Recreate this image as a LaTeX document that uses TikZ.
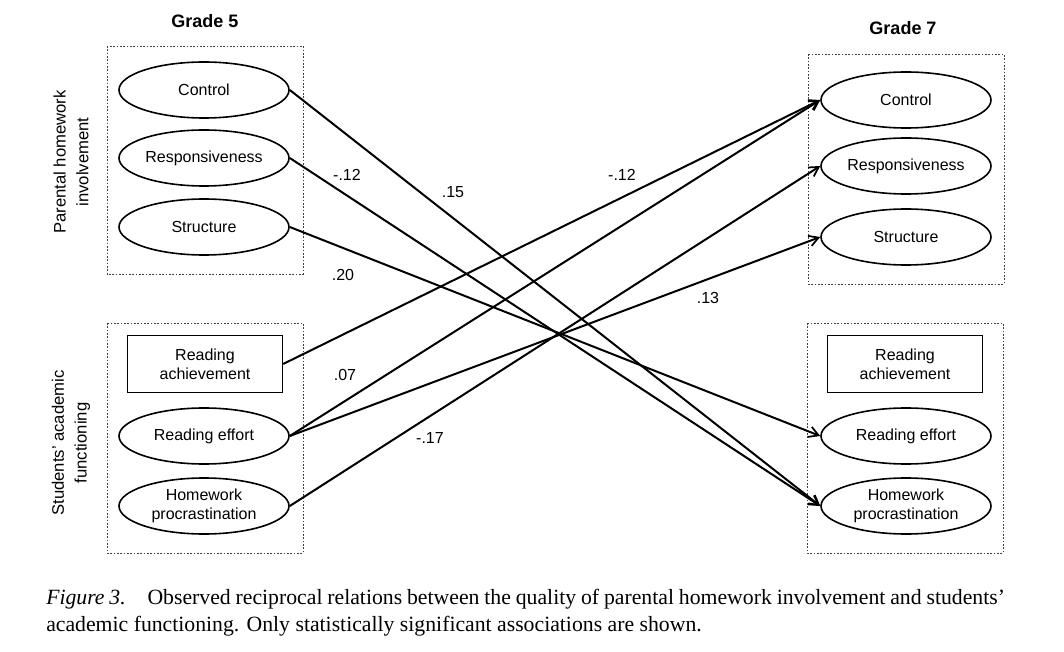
\documentclass[tikz,border=0pt]{standalone}
\usepackage{fontspec}
\setmainfont{Liberation Serif}
\newfontfamily\arial{Liberation Sans}
\usetikzlibrary{arrows.meta,shapes.geometric}
\begin{document}
\begin{tikzpicture}[x=0.75pt,y=-0.75pt,
  every node/.style={font=\arial\fontsize{12}{14.5}\selectfont, inner sep=0pt, align=center},
  oval/.style={draw, ellipse, line width=1.2pt, minimum width=127.5pt, minimum height=42pt},
  rbox/.style={draw, rectangle, line width=1.2pt, minimum width=116pt, minimum height=42.75pt},
  grp/.style={draw=black!75, line width=0.7pt, dash pattern=on 1.2pt off 1.3pt},
  conn/.style={line width=1.5pt, -{Straight Barb[length=7pt,width=8pt,line width=1.3pt]}},
  coef/.style={font=\arial\fontsize{12}{14}\selectfont},
  side/.style={rotate=90, font=\arial\fontsize{12.5}{17}\selectfont},
  grade/.style={font=\arial\bfseries\fontsize{13.5}{16}\selectfont},
  captxt/.style={font=\fontsize{16.3}{19}\selectfont, anchor=base west, align=left}
]
\useasboundingbox (0,0) rectangle (1064,652);

% group boxes
\draw[grp] (107,46) rectangle (303,274);
\draw[grp] (107,323) rectangle (303,553);
\draw[grp] (808,54) rectangle (1004,284);
\draw[grp] (807,323) rectangle (1003,553);

% titles
\node[grade] (g5) at (205,21) {Grade 5};
\node[grade] (g7) at (903,28) {Grade 7};

% side labels
\node[side] (pl) at (71,162) {Parental homework\\involvement};
\node[side] (sl) at (71,443) {Students’ academic\\functioning};

% Grade 5 nodes
\node[oval] (c5) at (204,90)  {Control};
\node[oval] (r5) at (204,158) {Responsiveness};
\node[oval] (s5) at (204,227) {Structure};
\node[rbox] (a5) at (205,364) {Reading\\achievement};
\node[oval] (e5) at (204,436) {Reading effort};
\node[oval] (h5) at (204,506) {Homework\\procrastination};

% Grade 7 nodes
\node[oval] (c7) at (906,100) {Control};
\node[oval] (r7) at (906,166) {Responsiveness};
\node[oval] (s7) at (906,237) {Structure};
\node[rbox] (a7) at (905,364) {Reading\\achievement};
\node[oval] (e7) at (906,436) {Reading effort};
\node[oval] (h7) at (906,506) {Homework\\procrastination};

% connectors
\draw[conn] (c5.east) -- (h7.west);
\draw[conn] (r5.east) -- (h7.west);
\draw[conn] (s5.east) -- (e7.west);
\draw[conn] (a5.east) -- (c7.west);
\draw[conn] (e5.east) -- (c7.west);
\draw[conn] (e5.east) -- (s7.west);
\draw[conn] (h5.east) -- (r7.west);

% coefficients
\node[coef] (k1) at (347,175) {-.12};
\node[coef] (k2) at (453,192) {.15};
\node[coef] (k3) at (343,275) {.20};
\node[coef] (k4) at (622,175) {-.12};
\node[coef] (k5) at (708,298) {.13};
\node[coef] (k6) at (345,375) {.07};
\node[coef] (k7) at (430,438) {-.17};

% caption
\node[captxt] (cap1) at (46,604) {\makebox[719pt][s]{\textit{Figure 3.}\hspace{11pt} Observed reciprocal relations between the quality of parental homework involvement and students’}};
\node[captxt] (cap2) at (46,631) {academic functioning. Only statistically significant associations are shown.};
\end{tikzpicture}
\end{document}
